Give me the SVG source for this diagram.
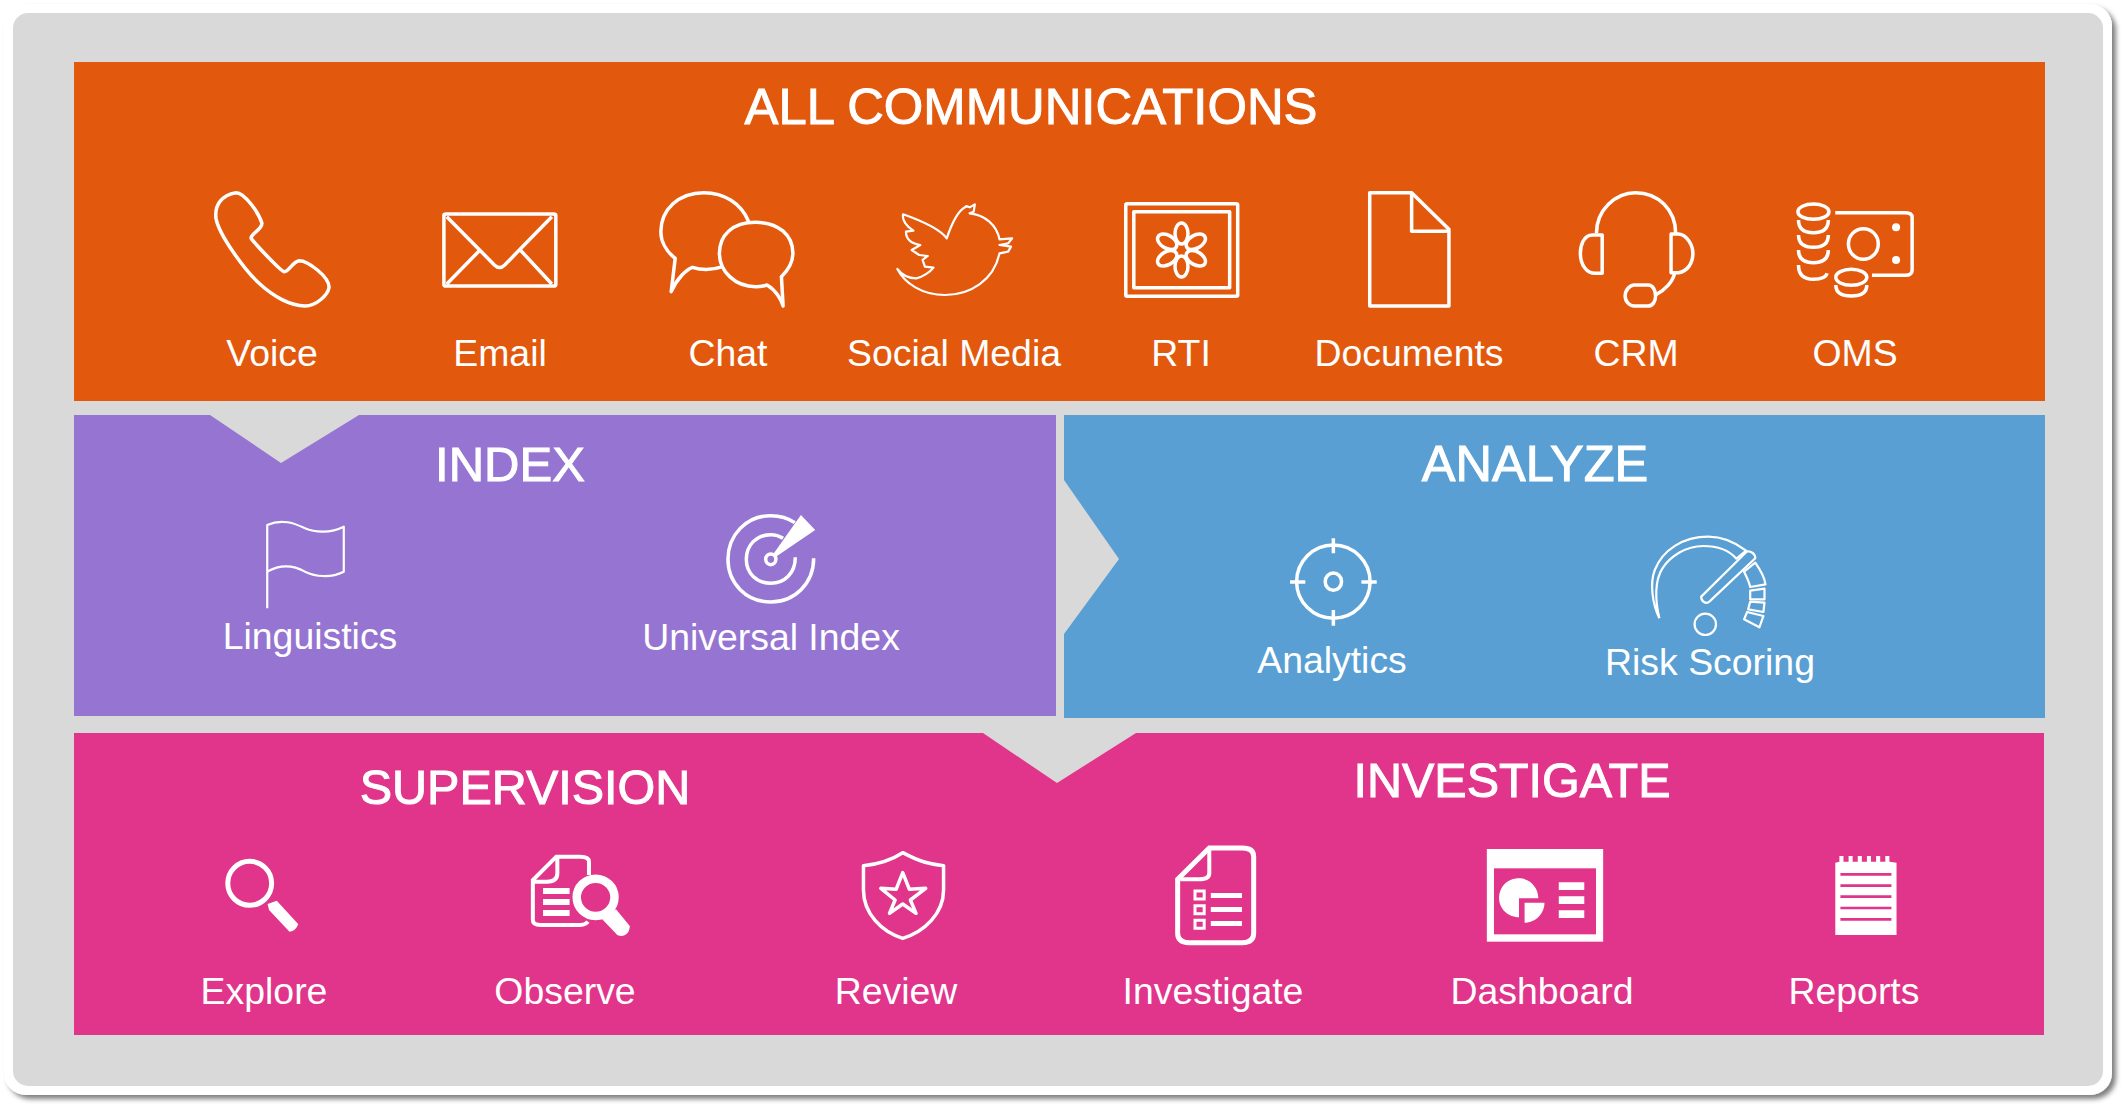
<svg xmlns="http://www.w3.org/2000/svg" width="2125" height="1108" viewBox="0 0 2125 1108">
<style>
text{font-family:"Liberation Sans",Arial,sans-serif;fill:#fff;text-anchor:middle}
.t{font-size:50px;stroke:#fff;stroke-width:1}
.l{font-size:37.400px}
.s,.s *{fill:none;stroke:#fff;stroke-width:3.5;vector-effect:non-scaling-stroke;stroke-linejoin:round}
.n,.n *{fill:none;stroke:#fff;stroke-width:2.2;vector-effect:non-scaling-stroke;stroke-linejoin:round}
.f,.f *{fill:#fff;stroke:none}
</style>
<defs>
<filter id="sh" x="-2%" y="-2%" width="104%" height="105%"><feDropShadow dx="4" dy="4" stdDeviation="2.500" flood-color="#000" flood-opacity=".5"/></filter>
</defs>
<rect width="2125" height="1108" fill="#fff"/>
<g id="frame">
<rect x="4" y="4" width="2108" height="1091" rx="22" fill="#fff" filter="url(#sh)"/>
<rect x="13" y="13" width="2090" height="1073" rx="15" fill="#d9d9d9"/>
</g>
<g id="communications">
<rect x="74" y="62" width="1971" height="339" fill="#e2590d"/>
<text class="t" x="1031" y="124" style="font-size:50.800px">ALL COMMUNICATIONS</text>
</g>
<g id="index-panel">
<path d="M74 415H210L281 463L359 415H1056V716H74Z" fill="#9575d1"/>
<text class="t" x="510" y="481" style="font-size:49px">INDEX</text>
</g>
<g id="analyze-panel">
<path d="M1064 415H2045V718H1064V634L1119 559L1064 480Z" fill="#599fd3"/>
<text class="t" x="1535" y="481" style="font-size:50.500px">ANALYZE</text>
</g>
<g id="bottom-panel">
<path d="M74 733H983L1057 783L1136 733H2044V1035H74Z" fill="#e0358a"/>
<text class="t" x="525" y="804" style="font-size:48.500px">SUPERVISION</text>
<text class="t" x="1512" y="797" style="font-size:48.500px">INVESTIGATE</text>
</g>
<g id="voice">
<g transform="translate(150 170) scale(.574 .3333)"><path class="s" d="M150 68C125 75 112 105 115 145C120 195 165 300 190 340C215 380 245 408 270 408C290 408 310 375 312 352C312 320 275 272 260 272C248 275 242 305 234 305C228 305 180 215 176 205C176 190 195 180 195 160C190 130 165 68 150 68Z"/></g>
<text class="l" x="272" y="366">Voice</text>
</g>
<g id="email">
<g transform="translate(150 170) scale(.574 .3333)" class="s"><rect x="512" y="132" width="195" height="216" rx="4"/><path d="M517 140L600 285Q609 300 618 285L700 140M575 240L517 342M645 240L700 342"/></g>
<text class="l" x="500" y="366">Email</text>
</g>
<g id="chat">
<g transform="translate(150 170) scale(.574 .3333)" class="s"><path d="M1043 155C1030 100 1000 68 965 68C920 68 890 120 890 185C890 215 900 245 915 265L908 365C918 325 935 298 945 292C960 300 980 300 998 290"/><path d="M1055 157C1015 157 992 195 992 250C992 305 1020 350 1055 350C1062 350 1070 348 1075 345C1090 360 1100 390 1103 408L1100 320C1112 300 1120 280 1120 250C1120 195 1095 157 1055 157Z"/></g>
<text class="l" x="728" y="366">Chat</text>
</g>
<g id="social-media">
<g transform="translate(150 170) scale(.574 .3333)" class="n"><path d="M1388 205C1395 170 1405 125 1420 112L1422 108L1428 112L1437 103L1435 125L1428 130C1455 135 1475 165 1480 208L1502 205L1495 220L1480 225L1500 230L1495 245L1480 250C1470 330 1430 375 1385 375C1345 375 1315 340 1302 297C1310 315 1322 325 1335 325C1345 322 1360 305 1365 293L1350 290L1346 270L1355 258L1340 255L1327 240L1342 225C1325 220 1317 205 1317 185L1330 182C1318 170 1310 150 1312 133C1340 150 1375 175 1388 205Z"/></g>
<text class="l" x="954" y="366">Social Media</text>
</g>
<g id="rti">
<g transform="translate(1050 170) scale(.574 .3333)" class="s"><rect x="132" y="101" width="195" height="278" rx="3"/><rect x="146" y="125" width="167" height="228"/></g>
<g class="s"><ellipse cx="1181.500" cy="233.500" rx="6.500" ry="10.500"/><ellipse cx="1181.500" cy="233.500" rx="6.500" ry="10.500" transform="rotate(60 1181.500 250)"/><ellipse cx="1181.500" cy="233.500" rx="6.500" ry="10.500" transform="rotate(120 1181.500 250)"/><ellipse cx="1181.500" cy="233.500" rx="6.500" ry="10.500" transform="rotate(180 1181.500 250)"/><ellipse cx="1181.500" cy="233.500" rx="6.500" ry="10.500" transform="rotate(240 1181.500 250)"/><ellipse cx="1181.500" cy="233.500" rx="6.500" ry="10.500" transform="rotate(300 1181.500 250)"/></g>
<text class="l" x="1181" y="366">RTI</text>
</g>
<g id="documents">
<g transform="translate(1050 170) scale(.574 .3333)" class="s"><path d="M557 68H630L695 178V408H557Z"/><path d="M630 68V184H695"/></g>
<text class="l" x="1409" y="366">Documents</text>
</g>
<g id="crm">
<g transform="translate(1050 170) scale(.574 .3333)" class="s"><path d="M952 190C952 120 985 68 1020 68C1060 68 1090 120 1090 190"/><path d="M962 195H945C930 195 924 225 924 250C924 285 935 310 950 310H962Z"/><path d="M1082 192H1095C1110 195 1120 225 1120 250C1120 280 1110 305 1095 308H1082Z"/><path d="M1088 310C1085 335 1072 360 1055 375"/><path d="M1018 345H1042C1050 345 1055 360 1055 378C1055 395 1050 408 1042 408H1018C1010 408 1002 395 1002 378C1002 360 1010 345 1018 345Z"/></g>
<text class="l" x="1636" y="366">CRM</text>
</g>
<g id="oms">
<g transform="translate(1050 170) scale(.574 .3333)" class="s"><ellipse cx="1330" cy="125" rx="27" ry="23"/><path d="M1304 150C1304 178 1315 188 1330 188C1345 188 1356 178 1356 150M1304 195C1304 222 1315 232 1330 232C1345 232 1356 222 1356 195M1304 240C1304 268 1315 278 1330 278C1345 278 1356 268 1356 240M1304 285C1304 318 1315 328 1330 328C1345 328 1352 322 1354 310"/><path d="M1368 128H1490Q1502 128 1502 142V300Q1502 316 1490 316H1432"/><ellipse cx="1417" cy="222" rx="26" ry="46"/><ellipse cx="1396" cy="322" rx="27" ry="24"/><path d="M1369 345C1369 370 1380 378 1396 378C1412 378 1423 370 1423 345"/></g>
<g transform="translate(1050 170) scale(.574 .3333)" class="f"><ellipse cx="1474" cy="172" rx="7" ry="12"/><ellipse cx="1474" cy="270" rx="7" ry="12"/></g>
<text class="l" x="1855" y="366">OMS</text>
</g>
<g id="linguistics">
<g transform="translate(180 400) scale(.5102 .3333)" class="n"><path d="M171 625V375C200 355 225 370 245 385C265 398 295 400 321 380V515C295 535 265 530 245 515C225 498 200 490 171 515"/></g>
<text class="l" x="310" y="649">Linguistics</text>
</g>
<g id="universal-index">
<g transform="translate(180 400) scale(.5102 .3333)" class="s"><path d="M1205 368C1190 352 1175 347 1158 347C1110 347 1074 405 1074 478C1074 550 1110 606 1158 606C1205 606 1242 550 1242 475"/><path d="M1182 415C1175 408 1165 404 1158 404C1130 404 1110 435 1110 478C1110 520 1130 550 1158 550C1185 550 1206 520 1206 472"/><ellipse cx="1158" cy="478" rx="10" ry="16"/></g>
<g transform="translate(180 400) scale(.5102 .3333)" class="f"><path d="M1163 462L1217 345L1245 390L1168 470Z"/></g>
<text class="l" x="771" y="650">Universal Index</text>
</g>
<g id="analytics">
<g transform="translate(1040 460) scale(.5102 .3333)" class="s"><ellipse cx="575" cy="365" rx="72" ry="110"/><ellipse cx="575" cy="365" rx="16" ry="26"/><path d="M575 235V280M575 450V497M490 366H520M630 366H660"/></g>
<text class="l" x="1332" y="673">Analytics</text>
</g>
<g id="risk-scoring">
<g transform="translate(1040 460) scale(.5102 .3333)" class="n"><path d="M1214 475C1200 430 1195 370 1205 330C1220 270 1260 230 1310 230C1340 230 1365 250 1384 272L1365 296C1350 270 1325 258 1300 258C1265 258 1235 290 1220 325C1205 360 1205 420 1214 475"/><path d="M1385 275C1392 272 1402 280 1402 295L1312 425C1305 433 1296 425 1296 410Z"/><path d="M1402 308C1412 330 1420 350 1422 373L1392 381C1390 365 1385 350 1380 335Z"/><path d="M1392 392L1420 386V418H1392Z"/><path d="M1392 425L1420 428L1418 456L1388 448Z"/><path d="M1386 456L1418 468L1410 502L1380 478Z"/><ellipse cx="1304" cy="493" rx="21" ry="32"/></g>
<text class="l" x="1710" y="675">Risk Scoring</text>
</g>
<g id="explore">
<g transform="translate(190 830) scale(.5102 .3333)"><ellipse cx="117" cy="160" rx="43" ry="66" fill="none" stroke="#fff" stroke-width="5" vector-effect="non-scaling-stroke"/><path class="f" d="M152 222L170 212L212 282C210 295 202 305 195 305L155 240Z"/></g>
<text class="l" x="264" y="1004">Explore</text>
</g>
<g id="observe">
<g transform="translate(190 830) scale(.5102 .3333)"><path d="M782 135V95Q782 80 765 80H718L672 150V270Q672 285 687 285H765Q775 285 780 275M720 80V130Q720 155 700 155H672" fill="none" stroke="#fff" stroke-width="4" vector-effect="non-scaling-stroke"/><path class="f" d="M692 174h52v18h-52zM692 207h52v18h-52zM692 240h52v18h-52zM835 238L862 288C862 305 855 318 845 318L838 316L808 268Z"/><ellipse cx="795" cy="202" rx="37" ry="56" fill="#e0358a" stroke="#fff" stroke-width="8.500" vector-effect="non-scaling-stroke"/></g>
<text class="l" x="565" y="1004">Observe</text>
</g>
<g id="review">
<g transform="translate(190 830) scale(.5102 .3333)" class="s"><path d="M1397 68C1430 95 1450 103 1477 107V180C1477 250 1440 305 1397 325C1355 305 1320 250 1320 180V107C1345 103 1370 95 1397 68Z"/><path d="M1397 128L1410 178L1442 175L1412 210L1423 250L1397 222L1371 250L1382 210L1354 175L1384 178Z"/></g>
<text class="l" x="896" y="1004">Review</text>
</g>
<g id="investigate">
<g transform="translate(1120 830) scale(.5102 .3333)"><g fill="none" stroke="#fff"><path stroke-width="5" vector-effect="non-scaling-stroke" d="M175 54H240Q262 54 262 80V310Q262 338 240 338H135Q113 338 113 310V148Z"/><path stroke-width="4" vector-effect="non-scaling-stroke" d="M175 60V130Q175 148 155 148H118"/><path stroke-width="3" vector-effect="non-scaling-stroke" d="M147 183h18v24h-18zM147 227h18v24h-18zM147 271h18v24h-18z"/></g><path class="f" d="M178 189h61v15h-61zM178 231h61v15h-61zM178 273h61v15h-61z"/></g>
<text class="l" x="1213" y="1004">Investigate</text>
</g>
<g id="dashboard">
<g transform="translate(1120 830) scale(.5102 .3333)"><rect x="719" y="57" width="228" height="278" fill="#fff"/><rect x="733" y="115" width="200" height="198" fill="#e0358a"/><path class="f" d="M782 262C760 262 743 235 743 205C743 170 760 145 782 145C805 145 820 175 820 205H782ZM793 218H832C832 250 815 278 793 278ZM860 157h50v23h-50zM860 199h50v23h-50zM860 241h50v23h-50z"/></g>
<text class="l" x="1542" y="1004">Dashboard</text>
</g>
<g id="reports">
<g transform="translate(1120 830) scale(.5102 .3333)"><path class="f" d="M1402 98L1410 95V78H1418V95H1428V78H1436V95H1446V78H1454V95H1464V78H1472V95H1482V78H1490V95H1500V78H1508V95L1522 98V315H1402Z"/><path d="M1412 133H1512M1412 167H1512M1412 200H1512M1412 234H1512M1412 268H1512" stroke="#e0358a" stroke-width="2.700" vector-effect="non-scaling-stroke" fill="none"/></g>
<text class="l" x="1854" y="1004">Reports</text>
</g>
</svg>
